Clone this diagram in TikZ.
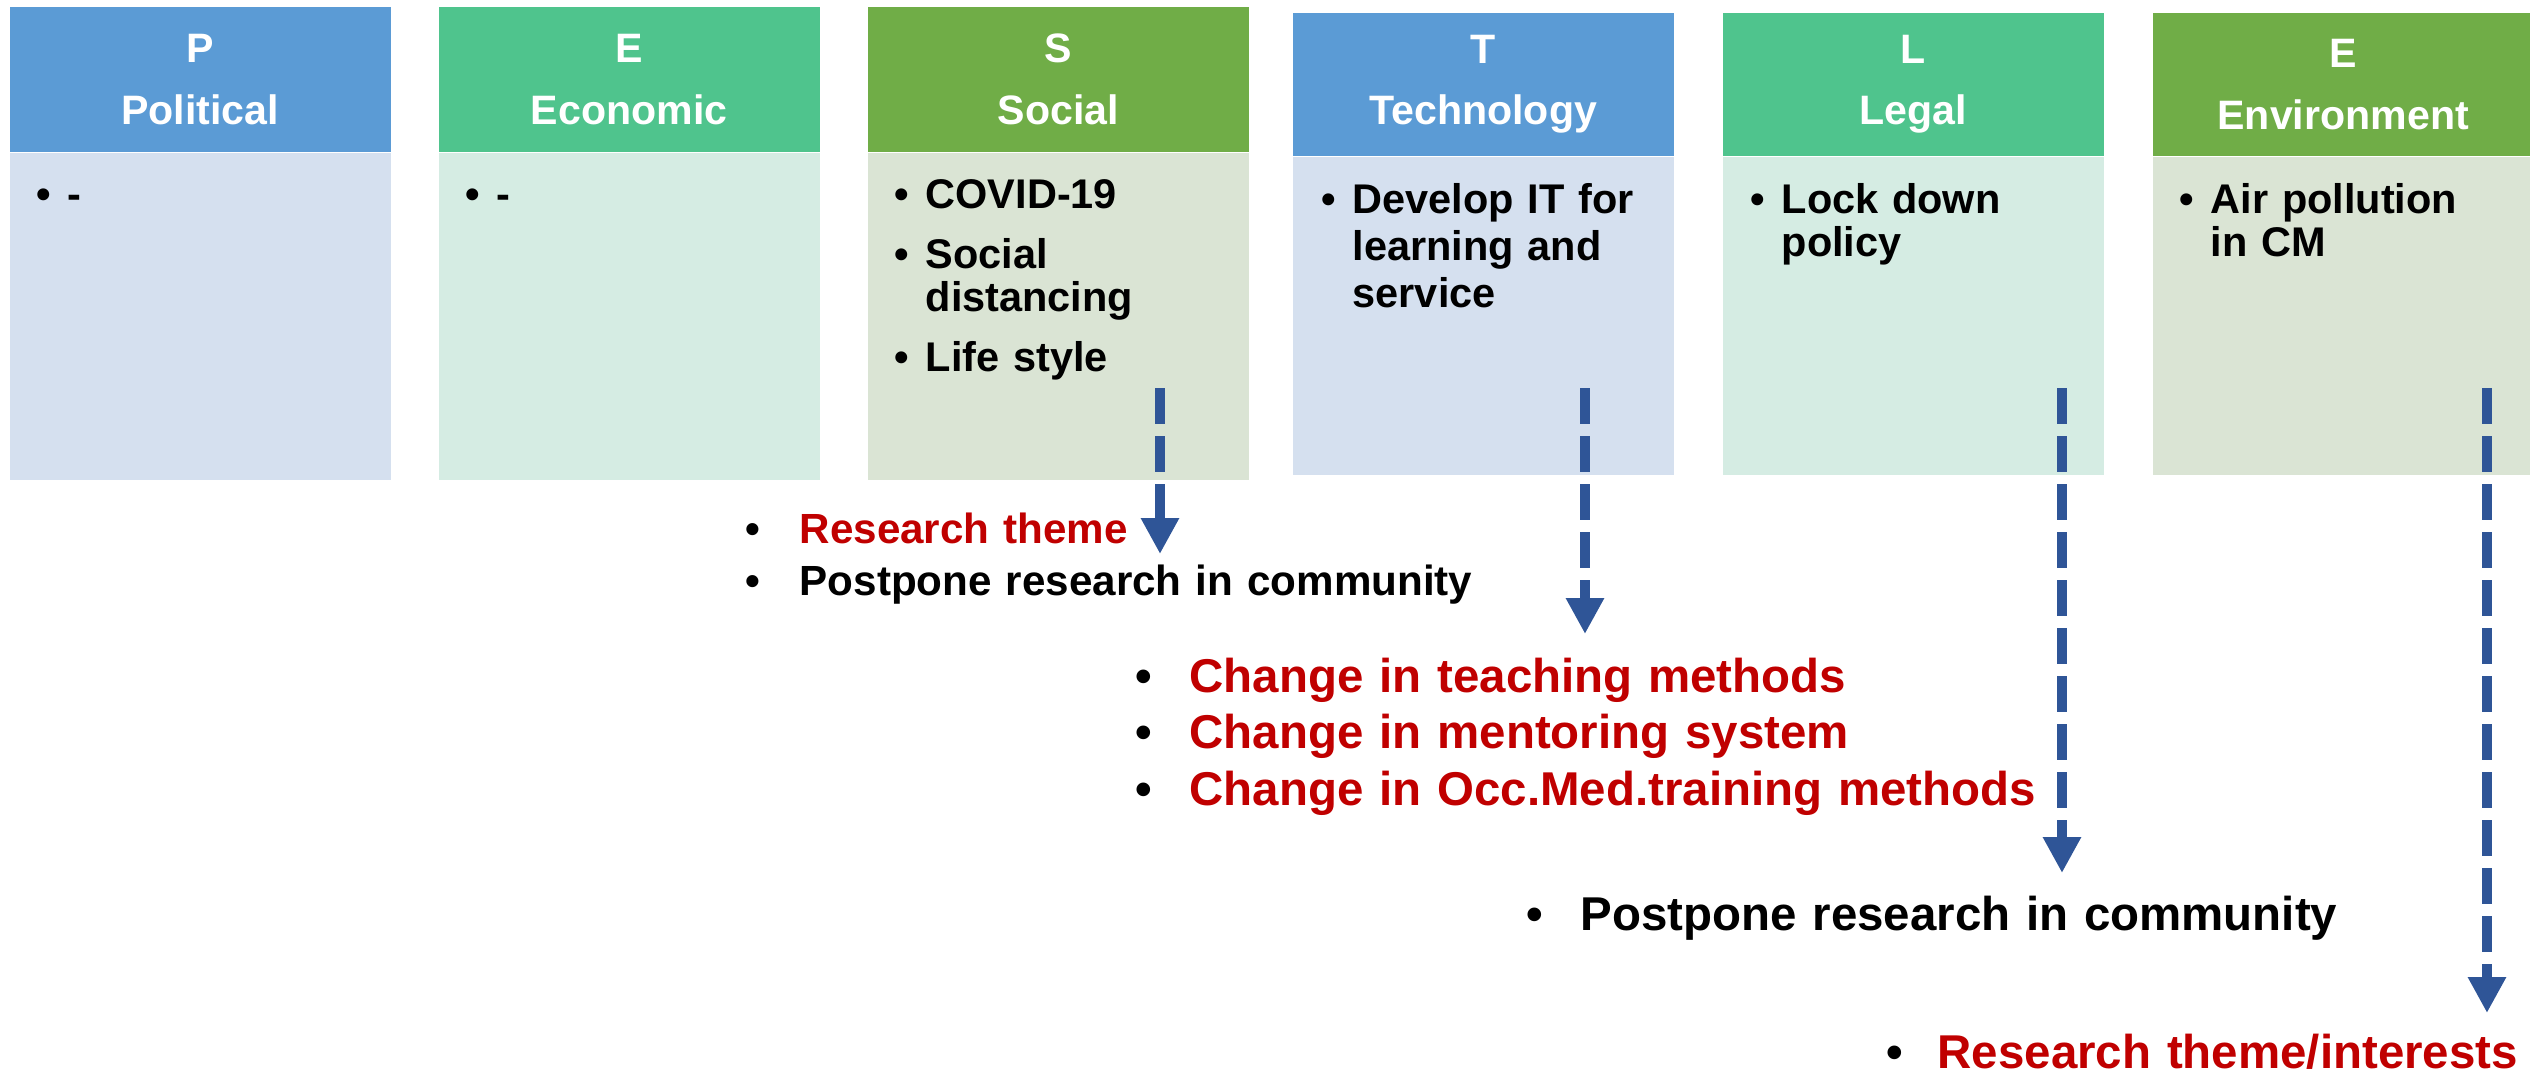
\documentclass[tikz,border=0pt]{standalone}
\usepackage{fontspec}
\setmainfont{Liberation Sans}
\usetikzlibrary{positioning,arrows.meta}

\definecolor{headblue}{HTML}{5B9BD5}
\definecolor{headteal}{HTML}{4FC48D}
\definecolor{headgreen}{HTML}{70AD47}
\definecolor{bodyblue}{HTML}{D5E0EF}
\definecolor{bodyteal}{HTML}{D5ECE3}
\definecolor{bodygreen}{HTML}{DAE4D4}
\definecolor{darkred}{HTML}{C00000}
\definecolor{flowblue}{HTML}{2F5597}

\newcommand{\bul}{\makebox[0.31cm][l]{\textbullet}}
\newcommand{\ind}{\hspace*{0.31cm}}
\newcommand{\lbul}{\makebox[0.54cm][l]{\color{black}\textbullet}}

\begin{document}
\begin{tikzpicture}[x=1cm,y=1cm]
  \tikzstyle{head}=[rectangle, anchor=north west, minimum width=3.81cm, inner sep=0pt, text=white, align=center, font=\fontsize{11.7}{17.6}\selectfont\bfseries]
  \tikzstyle{body}=[rectangle, anchor=north west, minimum width=3.81cm, inner sep=0pt]
  \tikzstyle{items}=[anchor=base west, inner sep=0pt, text width=3.4cm, align=left, font=\fontsize{11.8}{12.2}\selectfont\bfseries]
  \tikzstyle{result}=[anchor=base west, inner sep=0pt, align=left, font=\bfseries]
  \tikzstyle{flow}=[flowblue, line width=0.1cm, dash pattern=on 0.36cm off 0.12cm, -{Triangle[width=0.36cm,length=0.36cm]}]
  \useasboundingbox (0,0) rectangle (25.30,-10.73);

  % PESTLE columns
  \node[head, fill=headblue, minimum height=1.45cm] (polhead) at (0.09,-0.06) {P\\Political};
  \node[body, fill=bodyblue, minimum height=3.27cm] (polbody) at (polhead.south west) {};
  \node[items] (politems) at ([xshift=0.27cm,yshift=-0.56cm]polbody.north west) {\bul -};

  \node[head, fill=headteal, minimum height=1.45cm] (ecohead) at (4.38,-0.06) {E\\Economic};
  \node[body, fill=bodyteal, minimum height=3.27cm] (ecobody) at (ecohead.south west) {};
  \node[items] (ecoitems) at ([xshift=0.27cm,yshift=-0.56cm]ecobody.north west) {\bul -};

  \node[head, fill=headgreen, minimum height=1.45cm] (sochead) at (8.67,-0.06) {S\\Social};
  \node[body, fill=bodygreen, minimum height=3.27cm] (socbody) at (sochead.south west) {};
  \node[items] (socitems) at ([xshift=0.27cm,yshift=-0.56cm]socbody.north west)
    {\bul COVID-19\\[0.17cm] \bul Social\\ \ind distancing\\[0.17cm] \bul Life style};

  \node[head, fill=headblue, minimum height=1.43cm] (techhead) at (12.92,-0.12) {T\\Technology};
  \node[body, fill=bodyblue, minimum height=3.18cm] (techbody) at (techhead.south west) {};
  \node[items, font=\fontsize{11.8}{13.4}\selectfont\bfseries] (techitems) at ([xshift=0.29cm,yshift=-0.57cm]techbody.north west)
    {\bul Develop IT for\\ \ind learning and\\ \ind service};

  \node[head, fill=headteal, minimum height=1.43cm] (leghead) at (17.22,-0.12) {L\\Legal};
  \node[body, fill=bodyteal, minimum height=3.18cm] (legbody) at (leghead.south west) {};
  \node[items] (legitems) at ([xshift=0.28cm,yshift=-0.57cm]legbody.north west)
    {\bul Lock down\\ \ind policy};

  \node[head, fill=headgreen, minimum height=1.43cm] (envhead) at (21.52,-0.12) {E\\Environment};
  \node[body, fill=bodygreen, minimum height=3.18cm] (envbody) at (envhead.south west) {};
  \node[items] (envitems) at ([xshift=0.27cm,yshift=-0.57cm]envbody.north west)
    {\bul Air pollution\\ \ind in CM};

  % impacts
  \node[result, text width=8cm, font=\fontsize{12}{14.8}\selectfont\bfseries] (socout) at (7.45,-5.43)
    {\lbul\textcolor{darkred}{Research theme}\\ \lbul Postpone research in community};
  \node[result, text width=9.5cm, font=\fontsize{13.5}{16.2}\selectfont\bfseries, text=darkred] (techout) at (11.35,-6.92)
    {\lbul Change in teaching methods\\ \lbul Change in mentoring system\\ \lbul Change in Occ.Med.training methods};
  \node[result, text width=8.5cm, font=\fontsize{13.5}{16}\selectfont\bfseries] (legout) at (15.26,-9.30)
    {\lbul Postpone research in community};
  \node[result, text width=7cm, font=\fontsize{13.5}{16}\selectfont\bfseries, text=darkred] (envout) at (18.86,-10.68)
    {\makebox[0.51cm][l]{\color{black}\textbullet}Research theme/interests};

  % dashed arrows
  \coordinate (socfrom) at (11.60,-3.88);
  \coordinate (socto) at (11.60,-5.54);
  \coordinate (techfrom) at (15.85,-3.88);
  \coordinate (techto) at (15.85,-6.34);
  \coordinate (legfrom) at (20.62,-3.88);
  \coordinate (legto) at (20.62,-8.73);
  \coordinate (envfrom) at (24.87,-3.88);
  \coordinate (envto) at (24.87,-10.13);
  \draw[flow] (socfrom) -- (socto);
  \draw[flow] (techfrom) -- (techto);
  \draw[flow] (legfrom) -- (legto);
  \draw[flow] (envfrom) -- (envto);
\end{tikzpicture}
\end{document}
